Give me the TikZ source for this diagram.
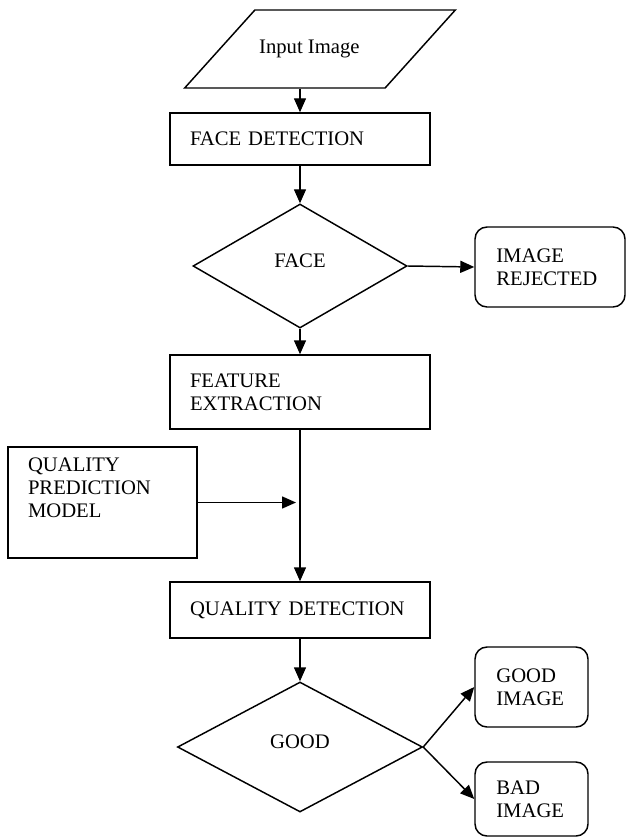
\documentclass[tikz,border=0pt]{standalone}
\usepackage{fontspec}
\setmainfont{Liberation Serif}
\usetikzlibrary{shapes,arrows.meta,positioning,calc}

\begin{document}
\begin{tikzpicture}[
    x=0.75pt, y=-0.75pt,
    line width=1.1pt,
    font=\fontsize{15.5}{17}\selectfont,
    io/.style={trapezium, draw, trapezium left angle=48, trapezium right angle=132, trapezium stretches body, minimum width=203pt, minimum height=58.5pt, text height=11pt, text depth=4pt, inner xsep=0pt, inner ysep=21.75pt},
    process/.style={rectangle, draw, align=left, inner xsep=15pt},
    decision/.style={diamond, draw, inner sep=0pt},
    result/.style={process, rounded corners=9pt, inner xsep=16pt},
    arrow/.style={->, >={Triangle[length=10.5pt,width=9pt]}}
]
    \useasboundingbox (0,0) rectangle (627,838);

    \node[io] (input) at (320,49) {\hspace*{-16pt}Input Image};
    \node[process, text width=165pt, minimum height=39pt] (facedet) at (300,139) {FACE DETECTION};
    \node[decision, minimum width=160.5pt, minimum height=93pt] (face) at (300,266) {\raisebox{8pt}{FACE}};
    \node[result, text width=80.5pt, minimum height=60pt] (rejected) at (550,267) {IMAGE\\REJECTED};
    \node[process, text width=165pt, minimum height=55.5pt] (featext) at (300,392) {FEATURE\\EXTRACTION};
    \node[process, text width=111.75pt, minimum height=83.25pt] (qpm) at (102.5,502.5) {QUALITY\\PREDICTION\\MODEL\\ \strut};
    \node[process, text width=165pt, minimum height=42pt] (qualdet) at (300,610) {QUALITY DETECTION};
    \node[decision, minimum width=183.75pt, minimum height=97.5pt] (good) at (300,747) {\raisebox{8pt}{GOOD}};
    \node[result, text width=52.75pt, minimum height=60pt] (goodimg) at (531.5,687) {GOOD\\IMAGE};
    \node[result, text width=52.75pt, minimum height=55.5pt] (badimg) at (531.5,799) {BAD\\IMAGE};

    \draw[arrow] (input.south -| facedet.north) -- (facedet.north);
    \draw[arrow] (facedet) -- (face);
    \draw[arrow] (face.east) -- (rejected.west);
    \draw[arrow] (face) -- (featext);
    \draw[arrow] (featext) -- (qualdet);
    \draw[arrow, shorten >=3pt] (qpm.east) -- (qpm.east -| featext.south);
    \draw[arrow] (qualdet) -- (good);
    \draw[arrow] (good.east) -- (goodimg.west);
    \draw[arrow] (good.east) -- (badimg.west);
\end{tikzpicture}
\end{document}
